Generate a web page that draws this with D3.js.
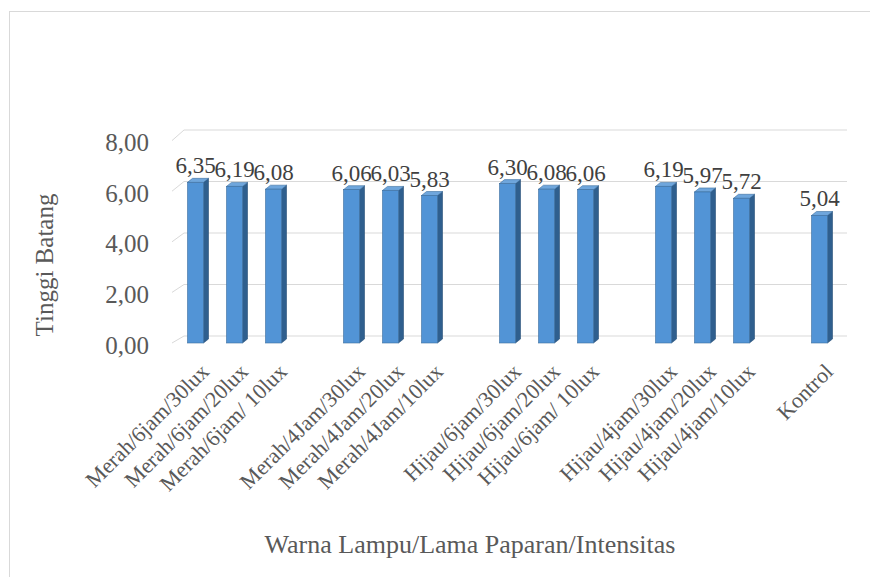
<!DOCTYPE html>
<html>
<head>
<meta charset="utf-8">
<script src="https://cdn.jsdelivr.net/npm/d3@7"></script>
<style>
  html, body { margin: 0; padding: 0; background: #fff; }
  svg { display: block; }
  text { font-family: "Liberation Serif", "Times New Roman", serif; }
</style>
</head>
<body>
<svg id="chart" width="870" height="577"></svg>
<script>
// Stem height per treatment: lamp colour / exposure time / intensity
const categories = [
  "Merah/6jam/30lux", "Merah/6jam/20lux", "Merah/6jam/ 10lux", "",
  "Merah/4Jam/30lux", "Merah/4Jam/20lux", "Merah/4Jam/10lux", "",
  "Hijau/6jam/30lux", "Hijau/6jam/20lux", "Hijau/6jam/ 10lux", "",
  "Hijau/4jam/30lux", "Hijau/4jam/20lux", "Hijau/4jam/10lux", "",
  "Kontrol"
];
const values = [
  6.35, 6.19, 6.08, null,
  6.06, 6.03, 5.83, null,
  6.30, 6.08, 6.06, null,
  6.19, 5.97, 5.72, null,
  5.04
];
const yTicks = [0, 2, 4, 6, 8];
const yTickLabels = ["0,00", "2,00", "4,00", "6,00", "8,00"];
const yTitle = "Tinggi Batang";
const xTitle = "Warna Lampu/Lama Paparan/Intensitas";

const fmt = v => v.toFixed(2).replace(".", ",");

const svg = d3.select("#chart");

// chart area frame
svg.append("rect")
  .attr("x", 9.5).attr("y", 11.5)
  .attr("width", 900).attr("height", 600)
  .attr("fill", "#fff").attr("stroke", "#d9d9d9");

// scales: category bands, front face of the bars, back wall of the 3D box
const x = d3.scaleBand().domain(d3.range(categories.length)).range([176, 839]);
const yFront = d3.scaleLinear().domain([0, 8]).range([343, 140.6]);
const yBack = d3.scaleLinear().domain([0, 8]).range([336, 130]);
const wallLeft = 184, wallRight = 847, sideFront = 172;

// gridlines on the back wall and the left side wall
const grid = svg.append("g").attr("stroke", "#d9d9d9").attr("fill", "none");
yTicks.forEach(t => {
  grid.append("path")
    .attr("d", `M${sideFront},${yFront(t)}L${wallLeft},${yBack(t)}H${wallRight}`);
});

// value axis labels
svg.append("g").selectAll("text")
  .data(yTicks)
  .join("text")
  .attr("x", 149)
  .attr("y", t => yFront(t) + 2)
  .attr("dy", "0.34em")
  .attr("text-anchor", "end")
  .attr("font-size", 25)
  .attr("fill", "#595959")
  .text((t, i) => yTickLabels[i]);

// 3D columns
const barW = 16, dx = 5, dy = 4;
const items = values.map((v, i) => ({ v, i })).filter(d => d.v !== null);
const bars = svg.append("g").selectAll("g").data(items).join("g");

bars.each(function(d) {
  const g = d3.select(this);
  const cx = x(d.i) + x.bandwidth() / 2;
  const x0 = cx - barW / 2, x1 = cx + barW / 2;
  const top = yFront(d.v), bot = yFront(0);
  // side face
  g.append("path")
    .attr("d", `M${x1},${top}L${x1 + dx},${top - dy}L${x1 + dx},${bot - dy}L${x1},${bot}Z`)
    .attr("fill", "#2f5f8e").attr("stroke", "#274f77").attr("stroke-width", 0.6);
  // top face
  g.append("path")
    .attr("d", `M${x0},${top}L${x0 + dx},${top - dy}L${x1 + dx},${top - dy}L${x1},${top}Z`)
    .attr("fill", "#6fa6dc").attr("stroke", "#3d6f9f").attr("stroke-width", 0.6);
  // front face
  g.append("rect")
    .attr("x", x0).attr("y", top)
    .attr("width", barW).attr("height", bot - top)
    .attr("fill", "#5294d6").attr("stroke", "#3c6e9e").attr("stroke-width", 0.6);
});

// data labels
svg.append("g").selectAll("text")
  .data(items)
  .join("text")
  .attr("x", d => x(d.i) + x.bandwidth() / 2)
  .attr("y", d => yFront(d.v) - 9)
  .attr("text-anchor", "middle")
  .attr("font-size", 23)
  .attr("fill", "#404040")
  .text(d => fmt(d.v));

// category labels, rotated
svg.append("g").selectAll("text")
  .data(categories.map((c, i) => ({ c, i })).filter(d => d.c !== ""))
  .join("text")
  .attr("transform", d => `translate(${x(d.i) + x.bandwidth() / 2 + 4},${362}) rotate(-45)`)
  .attr("text-anchor", "end")
  .attr("dy", "0.7em")
  .attr("font-size", 22)
  .attr("fill", "#595959")
  .text(d => d.c);

// axis titles
svg.append("text")
  .attr("transform", "translate(53,265) rotate(-90)")
  .attr("text-anchor", "middle")
  .attr("font-size", 25)
  .attr("fill", "#595959")
  .text(yTitle);

svg.append("text")
  .attr("x", 470).attr("y", 553)
  .attr("text-anchor", "middle")
  .attr("font-size", 26)
  .attr("fill", "#595959")
  .text(xTitle);
</script>
</body>
</html>
